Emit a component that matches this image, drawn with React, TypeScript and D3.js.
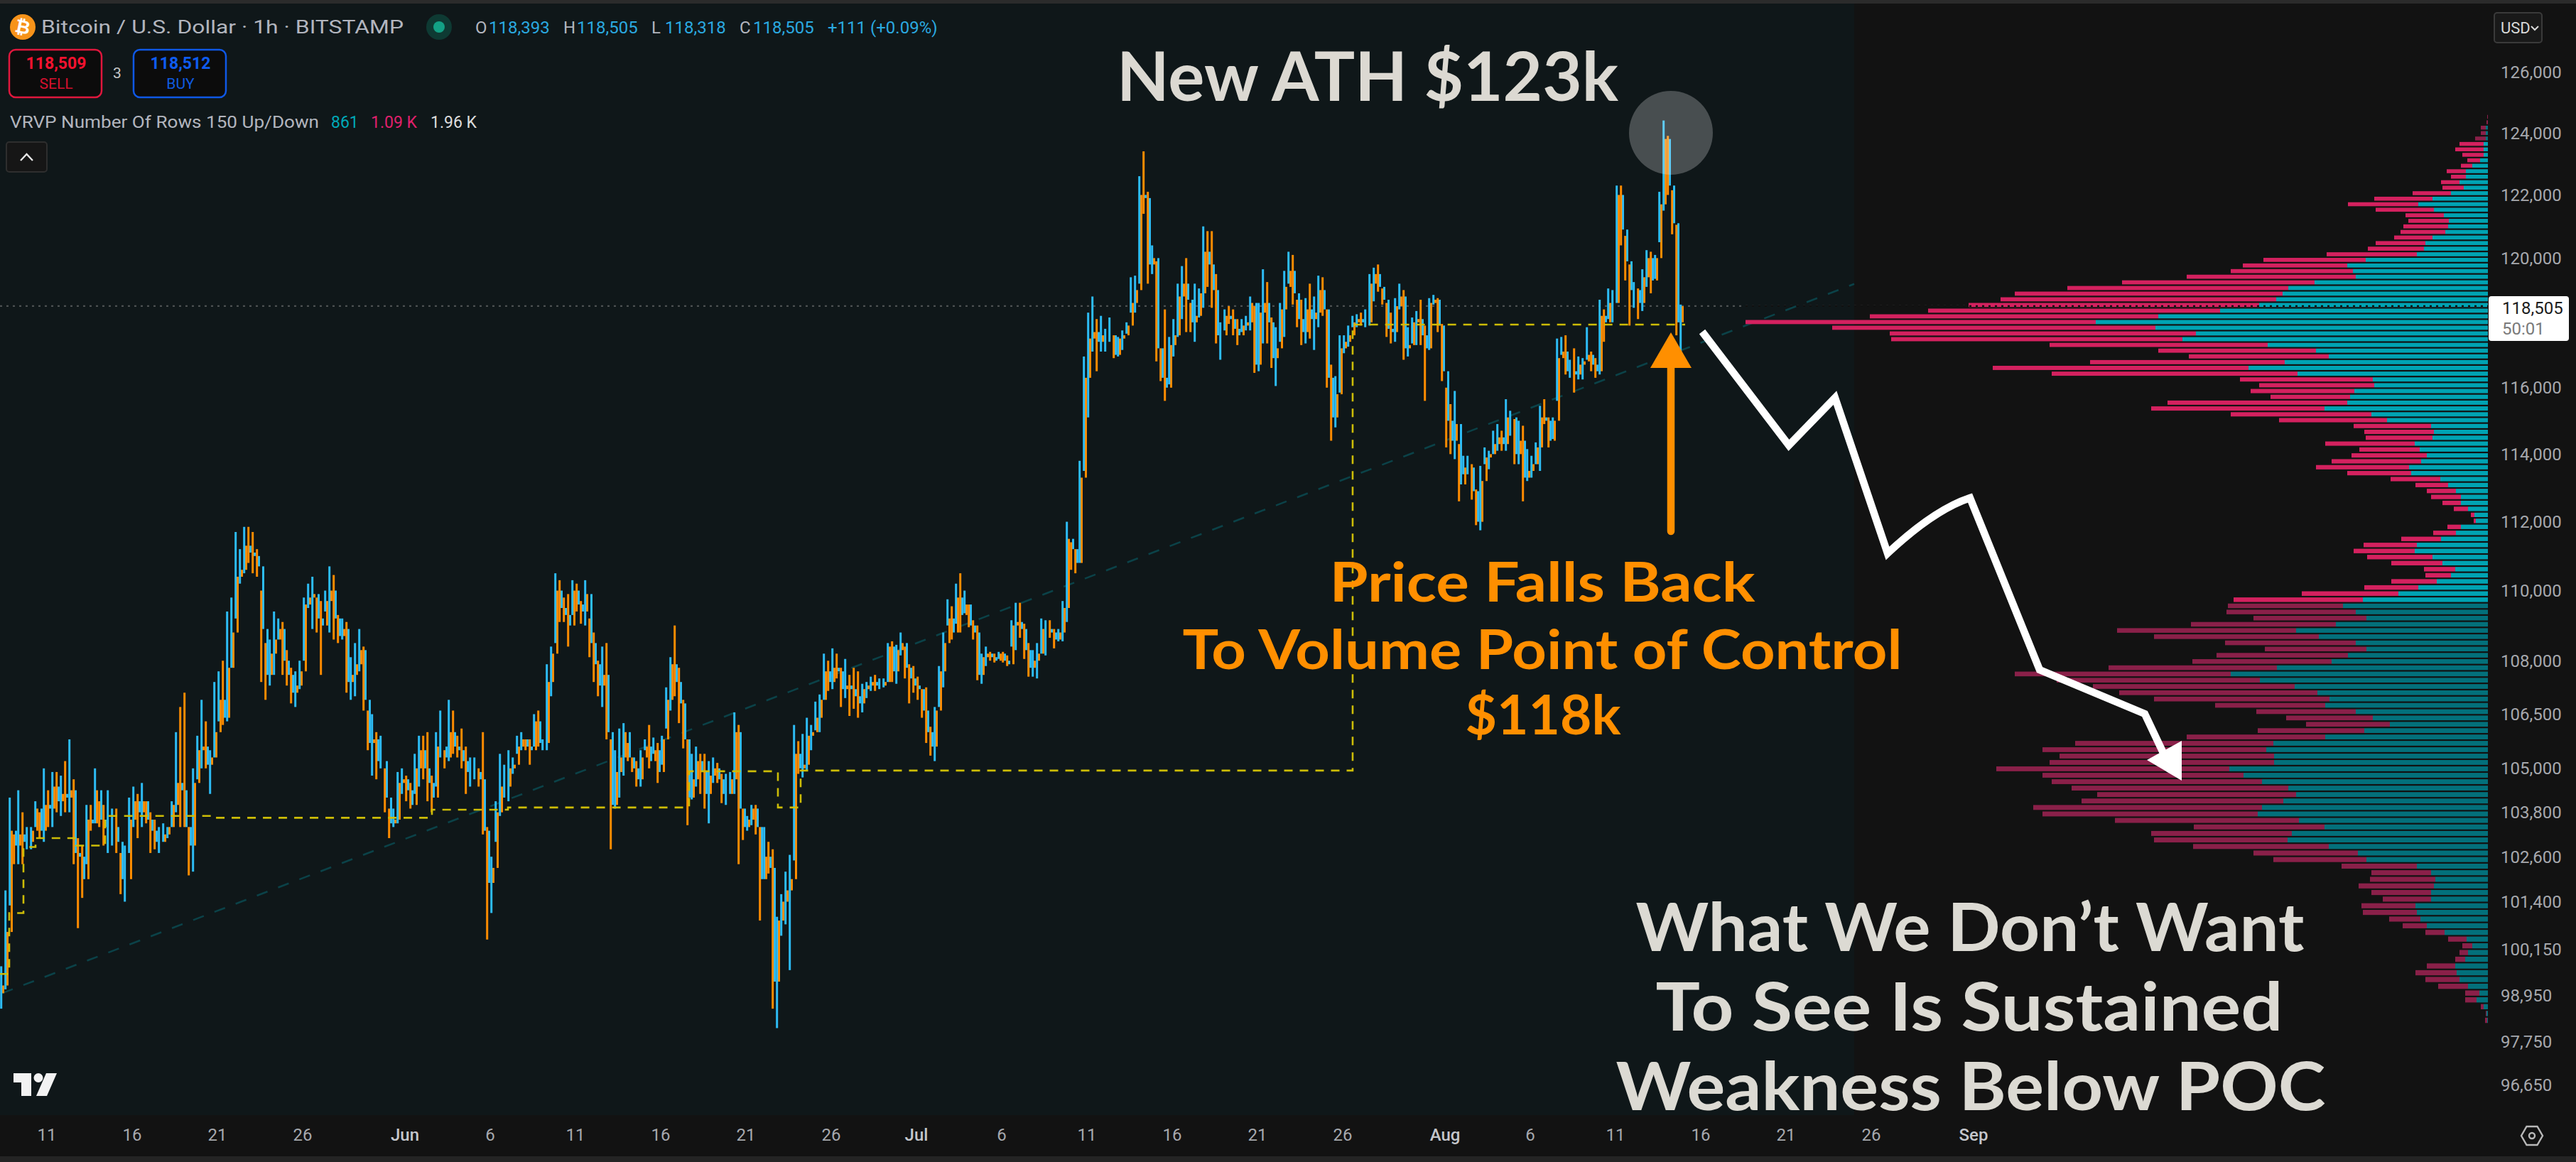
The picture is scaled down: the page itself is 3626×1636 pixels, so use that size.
import React from 'react';
import * as d3 from 'd3';

// ---- price bars, 6-hour buckets, k USD, starting 570 hours before Jun 1 ----
const highs = [99.7,101.7,104.2,103.2,104.4,103.8,103.4,103.4,104.1,103.8,
105.0,104.4,104.9,104.9,104.8,105.2,105.8,104.7,103.1,102.9,
104.0,104.0,105.0,104.1,104.0,104.4,103.9,103.9,102.7,102.9,
104.2,104.5,104.3,104.6,104.1,103.8,103.6,103.4,103.5,103.4,
104.1,106.0,106.7,107.1,103.4,105.0,105.9,106.9,106.3,105.5,
107.4,107.7,108.0,109.4,109.8,111.7,111.2,111.85,111.85,111.7,
111.2,110.0,108.5,108.6,109.4,109.2,109.1,108.3,107.8,107.7,
108.0,109.8,110.2,110.4,109.8,109.7,110.0,110.7,110.45,109.3,
109.2,109.1,108.1,108.5,108.9,108.4,106.6,
106.5,106.0,105.9,105.0,103.9,103.9,104.9,105.0,104.8,104.6,
105.4,105.9,105.9,106.0,104.8,106.0,106.6,105.5,106.9,106.6,
105.9,106.1,105.6,105.3,105.3,105.0,106.0,103.4,102.6,104.1,
105.4,105.1,105.5,105.3,105.9,106.0,105.8,105.8,106.5,106.6,
105.8,107.9,108.4,110.5,110.3,109.8,109.9,110.3,110.2,109.7,
110.3,109.2,108.8,108.0,108.4,108.5,105.8,105.5,106.1,106.25,
105.7,105.3,105.2,105.5,105.8,106.2,105.85,105.7,105.9,107.25,
108.1,109.0,107.8,106.9,105.8,105.4,105.6,105.4,105.4,105.2,
105.3,105.15,104.85,
104.85,104.9,106.55,106.2,103.9,103.7,104.0,104.0,103.4,103.4,
103.0,102.8,101.0,101.6,102.2,102.65,106.2,105.75,105.95,106.4,
106.2,106.85,107.05,108.2,108.0,108.35,108.2,107.8,108.05,107.6,
107.8,107.7,107.35,107.4,107.55,107.6,107.5,107.5,108.5,108.55,
108.45,108.8,108.4,107.9,107.85,107.55,107.2,107.25,106.15,106.7,
107.85,108.8,109.75,109.55,110.2,110.5,110.0,109.6,109.15,109.0,
108.2,108.4,108.25,108.2,108.25,108.25,108.15,109.15,109.65,109.65,
109.05,108.5,108.3,108.5,109.2,109.15,109.15,108.9,108.9,109.7,
112.0,111.4,111.2,113.8,116.95,118.3,118.8,118.1,118.2,117.8,
118.15,117.6,117.55,117.75,118.0,119.4,119.45,122.6,123.4,122.1,
120.4,119.9,117.2,118.4,117.55,118.1,119.2,119.75,120.0,118.6,
119.2,119.05,121.0,120.85,120.85,119.5,118.0,118.4,118.5,118.4,
118.1,118.1,118.2,118.8,118.5,118.6,119.65,119.25,118.15,117.85,
118.6,119.6,120.2,120.1,118.7,118.7,118.75,119.2,118.8,119.45,
119.4,118.4,116.7,116.35,117.6,117.6,117.9,118.2,118.25,118.3,
118.4,119.5,119.7,119.8,119.05,118.6,118.3,118.75,119.2,119.0,
117.85,118.15,118.35,118.7,117.9,118.75,118.85,
118.75,117.95,116.0,115.5,115.9,114.3,113.95,113.95,113.7,112.95,
113.65,114.2,114.1,114.7,114.9,114.7,115.65,115.3,115.05,115.0,
114.85,114.15,113.95,114.35,115.45,115.65,115.1,115.1,117.5,117.55,
117.6,116.85,117.2,116.95,116.9,117.85,117.1,116.9,118.7,118.4,
119.05,119.0,122.3,122.3,120.7,119.8,119.25,119.05,119.65,120.25,
120.2,120.1,122.1,124.4,123.9,122.15,121.05,118.55];

const lows = [98.6,99.1,101.3,102.4,102.4,102.4,102.8,102.8,103.4,103.1,
103.0,103.4,103.4,103.8,103.7,103.8,103.8,102.4,100.7,101.5,
102.4,103.3,103.5,103.4,102.9,102.7,102.9,102.7,101.6,101.4,
102.7,103.4,103.1,103.4,103.5,102.7,102.8,102.7,103.0,103.1,
103.4,103.8,103.4,103.4,102.1,102.2,104.7,105.0,105.0,104.3,
105.3,106.3,106.2,106.3,107.8,109.2,110.2,110.5,110.8,110.5,
110.4,107.4,106.9,107.3,107.6,108.6,107.6,107.3,106.8,106.7,
107.2,108.0,109.5,108.9,108.8,107.6,109.4,108.8,108.6,108.5,
108.6,107.1,106.9,107.0,107.7,106.6,105.5,
104.8,104.7,105.0,103.8,103.1,103.4,103.5,104.3,104.1,103.9,
104.3,104.5,104.7,104.1,103.8,104.5,105.3,105.0,105.2,105.4,
105.3,105.0,104.3,104.5,104.7,104.5,103.2,100.4,101.1,103.0,
103.7,104.2,104.1,104.85,105.4,105.5,105.5,105.1,105.6,105.6,
105.5,105.5,107.0,108.5,109.1,109.1,108.4,109.3,109.4,109.05,
109.0,108.1,107.4,107.0,106.7,105.8,102.8,103.9,104.2,104.8,
105.2,104.9,104.5,104.5,105.5,105.0,105.4,104.6,105.1,106.1,
106.6,107.0,106.25,105.55,103.45,104.15,104.5,104.3,103.9,103.5,
104.6,104.6,104.05,
104.0,104.3,104.3,102.4,103.05,103.3,103.45,103.2,100.9,102.0,
102.15,98.6,98.1,100.5,100.8,99.6,102.5,104.85,104.75,104.95,
105.5,106.05,106.0,106.9,107.15,107.2,107.5,106.7,106.95,106.45,
106.65,106.4,106.55,106.95,107.15,107.15,107.2,107.25,107.4,107.4,
107.35,108.15,107.5,106.8,107.1,106.9,106.4,105.7,105.35,105.2,
106.7,107.25,109.0,108.6,109.05,108.8,109.35,108.95,108.6,107.45,
107.35,107.85,108.0,107.95,108.05,107.95,107.85,108.4,108.3,108.65,
108.05,107.55,107.55,107.5,108.2,108.15,108.65,108.35,108.55,108.55,
109.1,110.6,110.5,110.8,113.5,115.1,117.1,116.5,117.1,117.1,
117.4,116.9,116.95,117.15,117.65,118.3,118.3,119.2,121.4,119.2,
119.5,116.8,116.2,115.6,116.1,116.95,117.55,118.1,117.7,117.7,
117.4,118.15,118.45,119.1,118.45,117.35,116.85,117.75,117.95,117.6,
117.3,117.7,117.75,117.75,116.45,116.5,117.35,117.35,116.6,116.05,
117.4,117.55,119.2,118.55,117.85,117.3,117.35,117.5,117.15,117.85,
118.2,116.0,114.4,114.8,115.85,117.05,117.25,117.85,117.85,117.9,
117.85,117.9,118.65,118.95,118.55,117.55,117.35,117.4,118.4,116.85,
116.95,117.35,117.3,117.3,115.6,117.15,118.55,
117.7,116.2,114.2,114.0,113.85,112.6,113.4,113.4,112.65,111.9,
111.75,113.7,113.55,114.0,114.1,114.1,114.1,114.55,113.7,113.7,
112.6,113.2,113.3,113.7,113.5,114.9,114.2,114.45,115.6,117.0,
116.4,116.3,115.85,116.25,116.25,116.85,116.5,116.3,116.4,117.4,
118.1,118.0,118.6,120.4,119.3,117.9,118.45,118.1,118.35,119.1,
118.9,119.35,120.5,121.5,122.0,120.75,117.6,117.1];

const closes = [99.2,100.6,103.3,102.9,103.2,103.0,103.0,103.3,103.9,103.3,
104.0,103.9,104.5,104.1,104.3,104.2,104.4,102.7,102.6,102.0,
103.6,103.5,104.4,103.6,103.4,103.4,103.4,103.0,102.0,102.0,
103.6,104.1,103.8,104.1,103.6,103.3,103.0,103.0,103.2,103.4,
104.0,104.6,104.4,103.4,102.9,104.6,105.5,105.6,105.1,105.3,
106.0,106.9,106.4,107.8,108.8,110.4,110.6,111.3,111.1,111.0,
110.7,108.9,107.6,108.2,108.6,108.9,108.0,107.6,107.1,107.3,
107.7,109.6,109.8,109.9,109.2,109.0,109.7,110.0,109.2,108.7,
108.9,107.4,107.6,107.9,108.3,106.9,105.7,
105.8,105.2,105.2,104.2,103.5,103.6,104.6,104.7,104.4,104.0,
105.0,105.5,105.0,104.6,104.2,105.6,105.6,105.3,106.0,105.6,
105.5,105.2,104.9,104.9,104.9,104.7,103.3,101.9,102.3,103.8,
104.5,104.5,105.0,105.1,105.6,105.8,105.6,105.5,106.3,105.7,
105.7,107.4,108.2,110.0,109.5,109.3,109.0,110.0,109.6,109.4,
109.9,108.5,107.9,107.3,107.6,106.0,104.0,104.9,105.3,106.0,
105.3,105.0,104.7,105.3,105.6,105.2,105.5,104.9,105.8,106.9,
107.9,107.4,106.8,105.8,104.2,104.7,105.2,104.9,104.3,104.8,
105.0,104.7,104.3,
104.3,104.7,106.0,103.9,103.4,103.6,103.9,103.4,102.0,102.6,
102.3,99.3,100.9,101.4,101.7,102.0,105.4,105.0,105.1,105.9,
106.0,106.4,106.9,107.7,107.4,107.8,107.7,107.2,107.3,107.2,
107.0,106.8,107.2,107.3,107.4,107.3,107.3,107.4,108.4,107.7,
108.3,108.5,107.8,107.5,107.3,107.2,106.6,106.0,105.6,106.6,
107.7,108.5,109.2,108.8,109.8,109.3,109.6,109.0,108.8,107.6,
108.1,108.2,108.1,108.0,108.2,108.0,107.9,109.0,109.1,108.9,
108.3,107.8,108.0,108.2,108.9,108.9,108.8,108.6,108.8,109.5,
111.5,111.2,110.8,113.3,116.3,117.5,117.7,117.4,117.6,117.6,
117.6,117.0,117.5,117.6,117.9,118.6,119.0,122.0,121.9,119.8,
120.0,117.2,116.3,116.0,117.3,117.6,118.8,119.2,118.7,118.0,
118.2,118.9,120.2,119.8,119.0,117.6,117.6,118.2,118.1,117.8,
117.6,117.9,118.0,118.6,116.7,118.3,118.6,118.0,116.9,117.2,
118.4,119.1,119.6,118.9,118.1,117.7,118.4,118.1,118.3,119.0,
118.4,116.3,115.1,115.8,117.2,117.4,117.6,118.0,118.1,118.0,
118.0,119.2,119.5,119.1,118.7,117.8,117.7,118.5,118.8,117.2,
117.3,118.0,118.1,117.6,117.2,118.6,118.7,
117.9,116.5,115.0,114.4,114.9,113.1,113.6,113.6,112.9,112.0,
113.2,113.9,114.0,114.3,114.5,114.3,115.1,115.1,114.0,114.4,
113.3,113.5,113.7,114.2,115.1,115.0,114.4,115.0,116.9,117.1,
116.5,116.5,116.4,116.7,116.8,117.0,116.7,116.5,118.2,118.0,
118.6,118.6,122.0,120.9,119.9,119.0,119.0,118.6,119.4,120.0,
119.3,120.0,121.7,123.8,122.3,121.1,118.0,118.5];

// ---- volume profile rows, top to bottom ----
const upVolume = [0,0,3,3,3,6,6,6,11,22,31,31,40,34,52,78,98,76,62,55,56,60,78,88,90,100,172,198,190,186,244,281,289,298,322,377,464,552,468,411,430,310,242,224,286,337,268,162,160,188,194,198,230,164,142,80,76,78,103,96,86,94,111,108,67,56,45,38,38,28,19,17,38,45,66,100,103,78,64,46,52,72,98,126,176,204,
186,171,214,270,238,186,171,197,220,297,362,321,272,240,223,229,186,162,138,174,229,302,312,301,301,364,344,318,281,270,288,318,324,266,230,276,282,224,183,171,100,80,74,76,80,80,102,100,95,86,61,30,22,28,32,46,44,40,28,12,16,6,2,1];
const downVolume = [1,2,7,7,15,34,40,30,18,16,27,21,26,30,54,82,99,82,54,57,63,63,54,70,79,127,144,147,172,238,271,311,377,388,409,411,406,493,455,431,410,307,222,197,274,360,346,187,162,146,112,253,244,198,152,109,98,94,126,85,106,126,131,90,70,46,41,42,26,20,5,3,19,32,56,75,86,92,72,44,36,64,76,136,182,162,
182,159,204,252,232,184,143,185,196,237,304,286,284,279,247,155,140,122,118,150,195,279,315,302,316,328,283,296,305,280,284,322,303,259,184,198,188,191,147,131,106,84,92,106,84,68,76,76,44,34,27,26,14,12,14,40,58,48,42,20,16,4,1,3];
const profileTopPrice = 124520;
const profileBottomPrice = 98300;
const valueAreaHigh = 123700;
const valueAreaLow = 109650;

// ---- developing POC steps and trend line ----
const pocHours = [-570,-557,-537,-520,-463,-422,-270,38,145,400,525,557,1334,1802];
const pocPrices = [99500,101100,102860,103100,102900,103700,103650,103870,103930,104920,103930,104940,117930,117930];
const trendHours = [-567,2040];
const trendPrices = [99000,119190];

// ---- axes ----
const priceTicks = [126000,124000,122000,120000,116000,114000,112000,110000,108000,106500,105000,103800,102600,101400,100150,98950,97750,96650];
const dateTickDays = [-21,-16,-11,-6,0,5,10,15,20,25,30,35,40,45,50,55,61,66,71,76,81,86,92];
const dateTickLabels = ['11','16','21','26','Jun','6','11','16','21','26','Jul','6','11','16','21','26','Aug','6','11','16','21','26','Sep'];
const lastPrice = 118505;

// ---- header quote ----
const quoteLabels = ['O','H','L','C'];
const quoteValues = ['118,393','118,505','118,318','118,505'];
const quoteChange = '+111 (+0.09%)';

const W = 3626, H = 1636;
const x = d3.scaleLinear().domain([-570, 2945]).range([0, 3515]);
const y = d3.scaleLog().domain([96650, 126000]).range([1527.6, 100.9]);
const vol = d3.scaleLinear().domain([0, 1045]).range([3502, 2457]);

const BLUE = '#2dbdf6', ORANGE = '#ff8c00';
const FONT = 'Roboto, sans-serif';
const DISPLAY = 'Lato, "Open Sans", sans-serif';

const pocLine = d3.line<number>()
  .x((_, i) => x(pocHours[i]))
  .y((p) => y(p))
  .curve(d3.curveStepAfter);

function Candles() {
  return (
    <g>
      {highs.map((h, i) => {
        const c = closes[i];
        const o = i === 0 ? 99.0 : closes[i - 1];
        const up = c >= o;
        const cx = x(-570 + 6 * i + 3);
        return (
          <g key={i}>
            <line x1={cx + 1.5} x2={cx + 1.5} y1={y(Math.max(o, c) * 1000)} y2={y(Math.min(o, c) * 1000)} stroke={up ? ORANGE : BLUE} strokeWidth={3} />
            <line x1={cx - 1.3} x2={cx - 1.3} y1={y(h * 1000)} y2={y(lows[i] * 1000)} stroke={up ? BLUE : ORANGE} strokeWidth={3} />
          </g>
        );
      })}
    </g>
  );
}

function Profile() {
  const n = upVolume.length;
  const step = (profileTopPrice - profileBottomPrice) / (n - 1);
  return (
    <g>
      {upVolume.map((u, i) => {
        const p = profileTopPrice - i * step;
        const top = y(p + step / 2) + 1.1;
        const bot = y(p - step / 2) - 1.1;
        const bright = p <= valueAreaHigh && p >= valueAreaLow;
        const d = downVolume[i];
        return (
          <g key={i}>
            <rect x={vol(u)} y={top} width={vol(0) - vol(u)} height={bot - top} fill={bright ? '#00a3b3' : '#03707b'} />
            <rect x={vol(u + d)} y={top} width={vol(u) - vol(u + d)} height={bot - top} fill={bright ? '#d4215f' : '#8a2049'} />
          </g>
        );
      })}
    </g>
  );
}

function Header() {
  const gray = '#b2b5be';
  const val = '#2aa9e0';
  return (
    <g fontFamily={FONT}>
      <circle cx={32} cy={38} r={18} fill="#f7931a" />
      <text x={32} y={47} textAnchor="middle" fontSize={26} fontWeight={700} fill="#fff" transform="rotate(12 32 38)">₿</text>
      <text x={58} y={47} fontSize={26} fill={gray} textLength={510} lengthAdjust="spacingAndGlyphs">Bitcoin / U.S. Dollar · 1h · BITSTAMP</text>
      <circle cx={618} cy={38} r={18} fill="#0e3a33" />
      <circle cx={618} cy={38} r={8} fill="#13a185" />
      {quoteLabels.map((l, i) => (
        <g key={l} fontSize={24}>
          <text x={669 + i * 124} y={47} fill={gray}>{l}</text>
          <text x={688 + i * 124} y={47} fill={val}>{quoteValues[i]}</text>
        </g>
      ))}
      <text x={1165} y={47} fontSize={24} fill={val}>{quoteChange}</text>
      <rect x={13} y={70} width={130} height={67} rx={9} fill="#0c0c0c" stroke="#e0173d" strokeWidth={2.5} />
      <text x={79} y={97} textAnchor="middle" fontSize={23} fontWeight={700} fill="#f5122f">118,509</text>
      <text x={79} y={125} textAnchor="middle" fontSize={21} fill="#d6102e">SELL</text>
      <text x={165} y={110} textAnchor="middle" fontSize={21} fill="#c8c8c8">3</text>
      <rect x={188} y={70} width={130} height={67} rx={9} fill="#0c0c0c" stroke="#0f58e6" strokeWidth={2.5} />
      <text x={254} y={97} textAnchor="middle" fontSize={23} fontWeight={700} fill="#0f5cf0">118,512</text>
      <text x={254} y={125} textAnchor="middle" fontSize={21} fill="#0f5be0">BUY</text>
      <text x={14} y={180} fontSize={23} fill={gray} textLength={435} lengthAdjust="spacingAndGlyphs">VRVP Number Of Rows 150 Up/Down</text>
      <text x={466} y={180} fontSize={23} fill="#00a9b8">861</text>
      <text x={522} y={180} fontSize={23} fill="#e0206c">1.09 K</text>
      <text x={606} y={180} fontSize={23} fill="#dddddd">1.96 K</text>
      <rect x={9} y={200} width={57} height={42} rx={4} fill="#161616" stroke="#2e2e2e" strokeWidth={2} />
      <path d="M29 226 L37.5 217 L46 226" fill="none" stroke="#e8e8e8" strokeWidth={2.4} />
    </g>
  );
}

function Axes() {
  return (
    <g fontFamily={FONT}>
      {priceTicks.map((t) => (
        <text key={t} x={3520} y={y(t)} dy="0.36em" fontSize={24} fill="#a6a8ad">{d3.format(',')(t)}</text>
      ))}
      {dateTickDays.map((d, i) => {
        const bold = /[A-Z]/.test(dateTickLabels[i]);
        return (
          <text key={d} x={x(d * 24)} y={1606} textAnchor="middle" fontSize={24} fontWeight={bold ? 500 : 400} fill={bold ? '#c4c6cb' : '#a6a8ad'}>{dateTickLabels[i]}</text>
        );
      })}
      <rect x={3511} y={18} width={67} height={42} rx={4} fill="#191919" stroke="#3a3a3a" strokeWidth={2} />
      <text x={3520} y={47} fontSize={22} fill="#d8d8d8">USD</text>
      <path d="M3563 37 L3568 42 L3573 37" fill="none" stroke="#d8d8d8" strokeWidth={2} />
      <rect x={3503} y={417} width={113} height={63} rx={4} fill="#ffffff" />
      <text x={3522} y={442} fontSize={24} fill="#1c1c1c">{d3.format(',')(lastPrice)}</text>
      <text x={3522} y={471} fontSize={24} fill="#7a7a7a">50:01</text>
      <path d="M3549 1599 L3556.5 1586 L3571.5 1586 L3579 1599 L3571.5 1612 L3556.5 1612 Z" fill="none" stroke="#b8b8b8" strokeWidth={2.4} />
      <circle cx={3564} cy={1599} r={4} fill="none" stroke="#b8b8b8" strokeWidth={2.4} />
    </g>
  );
}

export default function App() {
  return (
    <svg width={W} height={H} viewBox={`0 0 ${W} ${H}`} style={{ position: 'absolute', left: 0, top: 0, display: 'block' }}>
      <rect width={W} height={H} fill="#121212" />
      <rect x={0} y={0} width={W} height={5} fill="#2b2b2b" />
      <rect x={0} y={5} width={2610} height={1565} fill="#0f1719" />
      <rect x={0} y={1628} width={W} height={8} fill="#242424" />

      <path d={`M${x(trendHours[0])} ${y(trendPrices[0])} L${x(trendHours[1])} ${y(trendPrices[1])}`} stroke="#0b4248" strokeWidth={2.6} strokeDasharray="16 16" fill="none" />
      <line x1={0} x2={3503} y1={y(lastPrice)} y2={y(lastPrice)} stroke="#4c5152" strokeWidth={2.4} strokeDasharray="3 6" />
      <Profile />
      <line x1={2457} x2={3503} y1={y(lastPrice)} y2={y(lastPrice)} stroke="#101010" strokeWidth={2.4} strokeDasharray="3 6" />

      <Candles />
      <path d={pocLine(pocPrices) ?? ''} fill="none" stroke="#cdbd07" strokeWidth={2.6} strokeDasharray="12 10" />

      <circle cx={2352} cy={187} r={59} fill="#ffffff" opacity={0.24} />

      <path d="M2396 467 L2518 627 L2583 560 L2657 779 Q2722 718 2773 701 L2871 943 L3019 1005 L3045 1060" fill="none" stroke="#ffffff" strokeWidth={10.5} strokeLinejoin="miter" />
      <path d="M3071 1043 L3022 1070 L3071 1099 Z" fill="#ffffff" />

      <path d="M2352 748 L2352 515" stroke="#ff8f00" strokeWidth={10.5} strokeLinecap="round" fill="none" />
      <path d="M2352 468 L2381 518 L2323 518 Z" fill="#ff8f00" />

      <Header />
      <Axes />

      <g transform="translate(19 1511)" fill="#f2f2f2">
        <path d="M0 0 H25 V32 H11 V13 H0 Z" />
        <circle cx={35} cy={6.5} r={6.5} />
        <path d="M46 0 H61 L47 32 H32 Z" />
      </g>

      <g fontFamily={DISPLAY} fontWeight={700}>
        <text x={1925} y={142} textAnchor="middle" fontSize={96} fill="#dcd9d2" textLength={706} lengthAdjust="spacingAndGlyphs">New ATH $123k</text>
        <g fill="#ff8f00" fontSize={76} textAnchor="middle">
          <text x={2171} y={847} textLength={599} lengthAdjust="spacingAndGlyphs">Price Falls Back</text>
          <text x={2171} y={942} textLength={1013} lengthAdjust="spacingAndGlyphs">To Volume Point of Control</text>
          <text x={2172} y={1034} textLength={219} lengthAdjust="spacingAndGlyphs">$118k</text>
        </g>
        <g fill="#dcdad3" fontSize={94} textAnchor="middle">
          <text x={2773} y={1339} textLength={941} lengthAdjust="spacingAndGlyphs">What We Don’t Want</text>
          <text x={2772} y={1451} textLength={883} lengthAdjust="spacingAndGlyphs">To See Is Sustained</text>
          <text x={2774} y={1563} textLength={999} lengthAdjust="spacingAndGlyphs">Weakness Below POC</text>
        </g>
      </g>
    </svg>
  );
}
